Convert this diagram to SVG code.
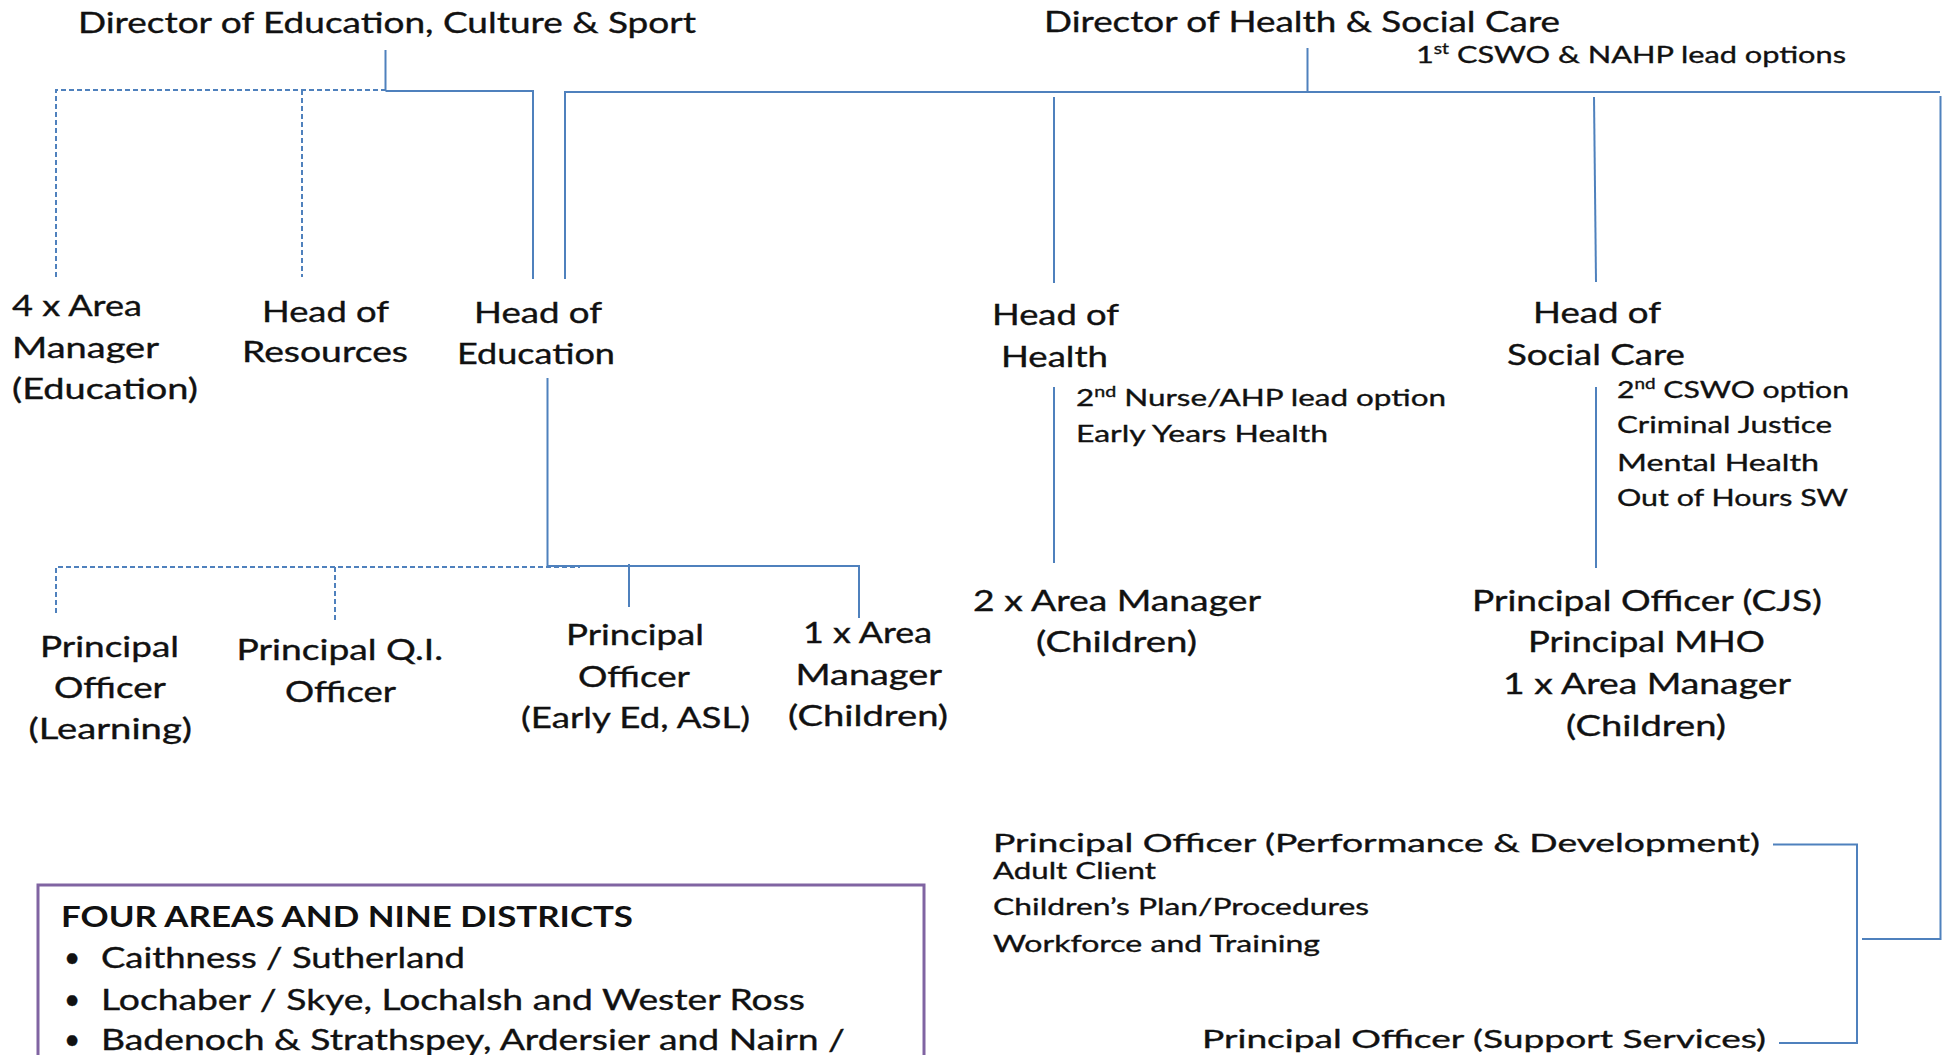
<svg xmlns="http://www.w3.org/2000/svg" width="1942" height="1055" viewBox="0 0 1942 1055">
  <style>
    text { font-family: Lato, "Open Sans", "Liberation Sans", sans-serif; fill: #111; stroke: #111; stroke-width: 0.35; }
    .lg { font-size: 28px; }
    .md { font-size: 25px; }
    .sm { font-size: 24px; }
    .b { font-weight: bold; stroke-width: 0; }
    .ln { fill: none; stroke: #4F81BD; stroke-width: 2; }
    .dash { stroke-dasharray: 5 3; }
    .box { fill: #fff; stroke: #8064A2; stroke-width: 3; }
  </style>

  <rect width="1942" height="1055" fill="#fff"/>

  <!-- connectors -->
  <g id="connectors">
    <!-- Education, Culture & Sport -->
    <path class="ln" d="M385.5 50 V91"/>
    <path class="ln dash" d="M56 277 V90 H385.5"/>
    <path class="ln dash" d="M302 90 V277"/>
    <path class="ln" d="M385.5 91 H533 V279"/>
    <!-- Health & Social Care bus -->
    <path class="ln" d="M565 279 V92 H1940"/>
    <path class="ln" d="M1307.5 48 V92"/>
    <path class="ln" d="M1054 97 V283"/>
    <path class="ln" d="M1054 387 V563"/>
    <path class="ln" d="M1594 97 L1596 282"/>
    <path class="ln" d="M1596 387 V568"/>
    <path class="ln" d="M1940.5 96 V939 H1862"/>
    <path class="ln" d="M1773 844.5 H1857 V1043 H1779"/>
    <!-- Head of Education reports -->
    <path class="ln" d="M547.5 378 V566 H859 V618"/>
    <path class="ln dash" d="M56 613 V567 H580"/>
    <path class="ln dash" d="M335 567 V622"/>
    <path class="ln" d="M629 564 V607"/>
  </g>

  <g id="dir-education">
    <text class="lg" x="78" y="33" textLength="618" lengthAdjust="spacingAndGlyphs">Director of Education, Culture &amp; Sport</text>
  </g>

  <g id="dir-health">
    <text class="lg" x="1044" y="32" textLength="516" lengthAdjust="spacingAndGlyphs">Director of Health &amp; Social Care</text>
    <text class="sm" x="1416" y="63" textLength="430" lengthAdjust="spacingAndGlyphs">1<tspan font-size="15" dy="-9">st</tspan><tspan dy="9"> CSWO &amp; NAHP lead options</tspan></text>
  </g>

  <g id="area-manager-education">
    <text class="lg" x="12" y="316" textLength="130" lengthAdjust="spacingAndGlyphs">4 x Area</text>
    <text class="lg" x="12" y="358" textLength="147" lengthAdjust="spacingAndGlyphs">Manager</text>
    <text class="lg" x="12" y="399" textLength="186" lengthAdjust="spacingAndGlyphs">(Education)</text>
  </g>

  <g id="head-resources">
    <text class="lg" x="262" y="322" textLength="127" lengthAdjust="spacingAndGlyphs">Head of</text>
    <text class="lg" x="242" y="362" textLength="166" lengthAdjust="spacingAndGlyphs">Resources</text>
  </g>

  <g id="head-education">
    <text class="lg" x="474" y="323" textLength="128" lengthAdjust="spacingAndGlyphs">Head of</text>
    <text class="lg" x="457" y="364" textLength="158" lengthAdjust="spacingAndGlyphs">Education</text>
  </g>

  <g id="head-health">
    <text class="lg" x="992" y="325" textLength="127" lengthAdjust="spacingAndGlyphs">Head of</text>
    <text class="lg" x="1001" y="367" textLength="107" lengthAdjust="spacingAndGlyphs">Health</text>
    <text class="sm" x="1076" y="406" textLength="370" lengthAdjust="spacingAndGlyphs">2<tspan font-size="15" dy="-9">nd</tspan><tspan dy="9"> Nurse/AHP lead option</tspan></text>
    <text class="sm" x="1076" y="442" textLength="252" lengthAdjust="spacingAndGlyphs">Early Years Health</text>
  </g>

  <g id="head-social-care">
    <text class="lg" x="1533" y="323" textLength="128" lengthAdjust="spacingAndGlyphs">Head of</text>
    <text class="lg" x="1507" y="365" textLength="178" lengthAdjust="spacingAndGlyphs">Social Care</text>
    <text class="sm" x="1617" y="398" textLength="232" lengthAdjust="spacingAndGlyphs">2<tspan font-size="15" dy="-9">nd</tspan><tspan dy="9"> CSWO option</tspan></text>
    <text class="sm" x="1617" y="433" textLength="215" lengthAdjust="spacingAndGlyphs">Criminal Justice</text>
    <text class="sm" x="1617" y="471" textLength="202" lengthAdjust="spacingAndGlyphs">Mental Health</text>
    <text class="sm" x="1617" y="506" textLength="231" lengthAdjust="spacingAndGlyphs">Out of Hours SW</text>
  </g>

  <g id="po-learning">
    <text class="lg" x="40" y="657" textLength="139" lengthAdjust="spacingAndGlyphs">Principal</text>
    <text class="lg" x="54" y="698" textLength="112" lengthAdjust="spacingAndGlyphs">Officer</text>
    <text class="lg" x="28.5" y="739" textLength="163.5" lengthAdjust="spacingAndGlyphs">(Learning)</text>
  </g>

  <g id="po-qi">
    <text class="lg" x="236.5" y="660" textLength="206.5" lengthAdjust="spacingAndGlyphs">Principal Q.I.</text>
    <text class="lg" x="285" y="702" textLength="111" lengthAdjust="spacingAndGlyphs">Officer</text>
  </g>

  <g id="po-early-ed">
    <text class="lg" x="566" y="645" textLength="138" lengthAdjust="spacingAndGlyphs">Principal</text>
    <text class="lg" x="578" y="687" textLength="112" lengthAdjust="spacingAndGlyphs">Officer</text>
    <text class="lg" x="521" y="728" textLength="229" lengthAdjust="spacingAndGlyphs">(Early Ed, ASL)</text>
  </g>

  <g id="area-manager-children-ed">
    <text class="lg" x="803" y="643" textLength="129" lengthAdjust="spacingAndGlyphs">1 x Area</text>
    <text class="lg" x="795.5" y="685" textLength="146.5" lengthAdjust="spacingAndGlyphs">Manager</text>
    <text class="lg" x="788" y="726" textLength="160" lengthAdjust="spacingAndGlyphs">(Children)</text>
  </g>

  <g id="area-manager-children-health">
    <text class="lg" x="973" y="611" textLength="288" lengthAdjust="spacingAndGlyphs">2 x Area Manager</text>
    <text class="lg" x="1036" y="652" textLength="161" lengthAdjust="spacingAndGlyphs">(Children)</text>
  </g>

  <g id="social-care-officers">
    <text class="lg" x="1472" y="611" textLength="350" lengthAdjust="spacingAndGlyphs">Principal Officer (CJS)</text>
    <text class="lg" x="1528" y="652" textLength="237" lengthAdjust="spacingAndGlyphs">Principal MHO</text>
    <text class="lg" x="1503" y="694" textLength="288" lengthAdjust="spacingAndGlyphs">1 x Area Manager</text>
    <text class="lg" x="1566" y="736" textLength="160" lengthAdjust="spacingAndGlyphs">(Children)</text>
  </g>

  <g id="po-performance">
    <text class="md" x="993" y="852" textLength="767" lengthAdjust="spacingAndGlyphs">Principal Officer (Performance &amp; Development)</text>
    <text class="sm" x="993" y="879" textLength="163" lengthAdjust="spacingAndGlyphs">Adult Client</text>
    <text class="sm" x="993" y="915" textLength="376" lengthAdjust="spacingAndGlyphs">Children’s Plan/Procedures</text>
    <text class="sm" x="993" y="952" textLength="327" lengthAdjust="spacingAndGlyphs">Workforce and Training</text>
  </g>

  <g id="po-support">
    <text class="md" x="1202" y="1048" textLength="564" lengthAdjust="spacingAndGlyphs">Principal Officer (Support Services)</text>
  </g>

  <g id="areas-box">
    <rect class="box" x="38" y="885" width="886" height="200"/>
    <text class="lg b" x="61" y="927" textLength="572" lengthAdjust="spacingAndGlyphs">FOUR AREAS AND NINE DISTRICTS</text>
    <text class="lg" x="64" y="967" font-size="24">•</text>
    <text class="lg" x="101" y="968" textLength="364" lengthAdjust="spacingAndGlyphs">Caithness / Sutherland</text>
    <text class="lg" x="64" y="1009" font-size="24">•</text>
    <text class="lg" x="101" y="1010" textLength="704" lengthAdjust="spacingAndGlyphs">Lochaber / Skye, Lochalsh and Wester Ross</text>
    <text class="lg" x="64" y="1049" font-size="24">•</text>
    <text class="lg" x="101" y="1050" textLength="744" lengthAdjust="spacingAndGlyphs">Badenoch &amp; Strathspey, Ardersier and Nairn /</text>
  </g>
</svg>
